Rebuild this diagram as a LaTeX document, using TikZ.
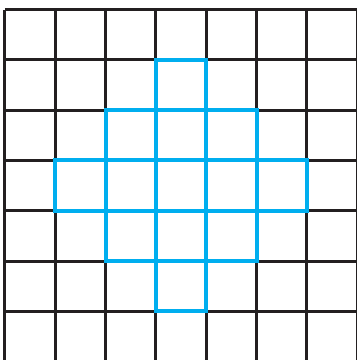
\documentclass[tikz,border=0pt]{standalone}
\begin{document}
\begin{tikzpicture}[x=1pt,y=-1pt,
  gridline/.style={line width=3pt,draw={rgb,255:red,35;green,31;blue,32}},
  bluecell/.style={line width=4pt,draw={rgb,255:red,0;green,174;blue,239},line join=miter}]
\useasboundingbox (0,0) rectangle (357,360);
\def\s{50.33}
\foreach \k in {0,...,7} {
  \draw[gridline] ({5+\s*\k},9.5) -- ({5+\s*\k},362);
}
\foreach \k in {0,...,6} {
  \draw[gridline] (5,{9.5+\s*\k}) -- (362,{9.5+\s*\k});
}
\foreach \c/\r in {3/1, 2/2,3/2,4/2, 1/3,2/3,3/3,4/3,5/3, 2/4,3/4,4/4, 3/5} {
  \draw[bluecell] ({5+\s*\c},{9.5+\s*\r}) rectangle ({5+\s*(\c+1)},{9.5+\s*(\r+1)});
}
\end{tikzpicture}
\end{document}
